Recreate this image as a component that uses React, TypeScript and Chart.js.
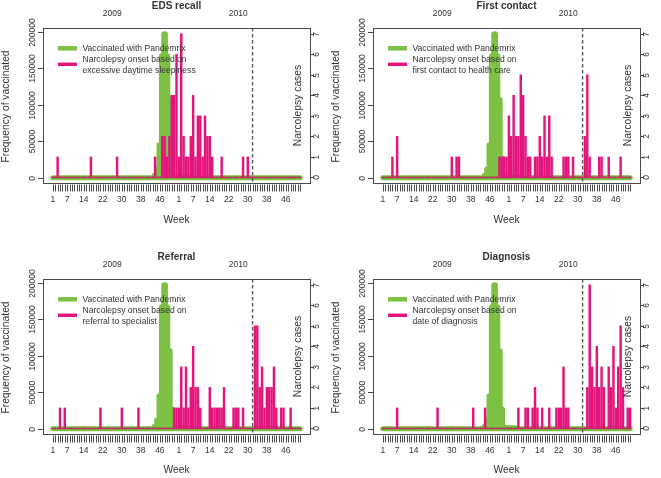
import React, { useEffect, useRef } from 'react';
import { Chart, registerables } from 'chart.js';
Chart.register(...registerables);

const FONT = '"Liberation Sans", Arial, Helvetica, sans-serif';

// ---- categories / ticks ----
const years = [2009, 2010];
const weeksPerYear = [53, 52];
const shownWeekTicks = [1, 7, 14, 22, 30, 38, 46];
const yearLabelWeek = 26;
const markerYear = 2010;
const markerWeek = 32;
const leftTicks = [0, 50000, 100000, 150000, 200000];
const rightTicks = [0, 1, 2, 3, 4, 5, 6, 7];

// ---- series (105 weeks: 2009 w1..w53, 2010 w1..w52) ----
const vaccinated = [
  0, 0, 0, 0, 0, 0, 0, 0, 0, 0,
  0, 0, 0, 0, 0, 0, 0, 0, 0, 0,
  0, 0, 0, 0, 0, 0, 0, 0, 0, 0,
  0, 0, 0, 0, 0, 0, 0, 0, 0, 0,
  0, 0, 1500, 6000, 15000, 48000, 170000, 200000, 170000, 110000,
  30000, 5000, 4000, 4000, 4000, 4000, 4000, 3000, 2000, 2000,
  1500, 1500, 1500, 1500, 1500, 1500, 1500, 1500, 1500, 1500,
  1000, 1000, 1000, 0, 0, 0, 0, 0, 0, 0,
  0, 0, 0, 0, 0, 0, 0, 0, 0, 0,
  0, 0, 0, 0, 0, 0, 0, 0, 0, 0,
  0, 0, 0, 0, 0,
];

const edsRecall = [
  0, 0, 1, 0, 0, 0, 0, 0, 0, 0,
  0, 0, 0, 0, 0, 0, 1, 0, 0, 0,
  0, 0, 0, 0, 0, 0, 0, 1, 0, 0,
  0, 0, 0, 0, 0, 0, 0, 0, 0, 0,
  0, 0, 0, 1, 0, 0, 2, 2, 1, 2,
  4, 4, 6, 1, 7, 2, 1, 1, 2, 4,
  1, 3, 3, 1, 3, 2, 2, 1, 0, 0,
  0, 1, 0, 0, 0, 0, 0, 0, 0, 0,
  1, 0, 1, 0, 0, 0, 0, 0, 0, 0,
  0, 0, 0, 0, 0, 0, 0, 0, 0, 0,
  0, 0, 0, 0, 0,
];

const firstContact = [
  0, 0, 0, 0, 1, 0, 2, 0, 0, 0,
  0, 0, 0, 0, 0, 0, 0, 0, 0, 0,
  0, 0, 0, 0, 0, 0, 0, 0, 0, 1,
  0, 1, 1, 0, 0, 0, 0, 0, 0, 0,
  0, 0, 0, 0, 0, 0, 0, 0, 0, 1,
  1, 1, 1, 3, 2, 4, 2, 2, 5, 4,
  2, 1, 1, 0, 1, 1, 2, 1, 3, 1,
  3, 1, 0, 0, 0, 0, 1, 1, 1, 0,
  1, 0, 0, 0, 0, 2, 5, 1, 0, 0,
  0, 1, 1, 0, 0, 1, 0, 0, 0, 0,
  1, 0, 0, 0, 0,
];

const referral = [
  0, 0, 0, 1, 0, 1, 0, 0, 0, 0,
  0, 0, 0, 0, 0, 0, 0, 0, 0, 0,
  1, 0, 0, 0, 0, 0, 0, 0, 0, 1,
  0, 0, 0, 0, 0, 0, 1, 0, 0, 0,
  0, 0, 0, 0, 0, 0, 0, 0, 0, 0,
  0, 1, 1, 1, 3, 1, 3, 1, 2, 4,
  2, 2, 1, 0, 0, 0, 2, 1, 1, 1,
  1, 1, 2, 0, 0, 0, 1, 1, 1, 0,
  1, 0, 0, 0, 0, 5, 5, 2, 3, 1,
  2, 2, 2, 3, 1, 0, 1, 1, 0, 0,
  1, 0, 0, 0, 0,
];

const diagnosis = [
  0, 0, 0, 0, 0, 0, 1, 0, 0, 0,
  0, 0, 0, 0, 0, 0, 0, 0, 0, 0,
  0, 0, 0, 1, 0, 0, 0, 0, 0, 0,
  0, 0, 0, 0, 0, 0, 0, 0, 1, 0,
  0, 0, 0, 1, 0, 0, 0, 0, 0, 0,
  0, 0, 0, 0, 0, 0, 0, 1, 0, 0,
  1, 1, 0, 1, 2, 1, 0, 1, 0, 0,
  1, 0, 0, 1, 1, 1, 3, 1, 1, 0,
  0, 0, 0, 0, 0, 0, 2, 7, 3, 2,
  4, 2, 3, 2, 0, 3, 2, 4, 1, 3,
  5, 2, 0, 1, 1,
];

const panelTitles = ['EDS recall', 'First contact', 'Referral', 'Diagnosis'];
const legendVaccinated = 'Vaccinated with Pandemrix';
const legendOnsetLine1 = 'Narcolepsy onset based on';
const legendOnsetLine2 = [
  'excessive daytime sleepiness',
  'first contact to health care',
  'referral to specialist',
  'date of diagnosis',
];
const panelSeries = [edsRecall, firstContact, referral, diagnosis];

const GREEN = '#7CC143';
const PINK = '#E3157D';
const TEXT = '#333333';
const AXIS = '#4a4a4a';

function weekIndex(year: number, week: number) {
  let idx = 0;
  for (let k = 0; k < years.length; k++) {
    if (years[k] === year) return idx + week - 1;
    idx += weeksPerYear[k];
  }
  return idx;
}

const totalWeeks = weeksPerYear.reduce((a, b) => a + b, 0);
const weekIdx = Array.from({ length: totalWeeks }, (_, i) => i);

const decor = {
  id: 'decor',
  afterDraw(chart: any, _args: any, opts: any) {
    const { ctx, chartArea: a, scales } = chart;
    const x = scales.x, yL = scales.y, yR = scales.y2;
    ctx.save();

    // dashed marker line
    const mx = x.getPixelForValue(weekIndex(markerYear, markerWeek));
    ctx.strokeStyle = '#555';
    ctx.lineWidth = 1.4;
    ctx.setLineDash([3.5, 2.5]);
    ctx.beginPath();
    ctx.moveTo(mx, a.top);
    ctx.lineTo(mx, a.bottom);
    ctx.stroke();
    ctx.setLineDash([]);

    // box
    ctx.strokeStyle = AXIS;
    ctx.lineWidth = 1;
    ctx.strokeRect(a.left + 0.5, a.top + 0.5, a.right - a.left, a.bottom - a.top);

    ctx.fillStyle = TEXT;
    ctx.textAlign = 'center';
    ctx.textBaseline = 'middle';

    // left axis
    ctx.font = `8.5px ${FONT}`;
    leftTicks.forEach((v) => {
      const py = Math.round(yL.getPixelForValue(v)) + 0.5;
      ctx.beginPath();
      ctx.moveTo(a.left, py);
      ctx.lineTo(a.left - 5, py);
      ctx.stroke();
      ctx.save();
      ctx.translate(a.left - 10, py);
      ctx.rotate(-Math.PI / 2);
      ctx.fillText(String(v), 0, 0);
      ctx.restore();
    });
    // right axis
    rightTicks.forEach((v) => {
      const py = Math.round(yR.getPixelForValue(v)) + 0.5;
      ctx.beginPath();
      ctx.moveTo(a.right, py);
      ctx.lineTo(a.right + 4, py);
      ctx.stroke();
      ctx.save();
      ctx.translate(a.right + 7, py);
      ctx.rotate(-Math.PI / 2);
      ctx.fillText(String(v), 0, 0);
      ctx.restore();
    });
    // x axis comb
    weekIdx.forEach((i) => {
      const px = Math.round(x.getPixelForValue(i)) + 0.5;
      ctx.beginPath();
      ctx.moveTo(px, a.bottom + 1.5);
      ctx.lineTo(px, a.bottom + 8.5);
      ctx.stroke();
    });
    years.forEach((yr) => {
      shownWeekTicks.forEach((w) => {
        const px = x.getPixelForValue(weekIndex(yr, w));
        ctx.fillText(String(w), px, a.bottom + 17);
      });
      const px = x.getPixelForValue(weekIndex(yr, yearLabelWeek));
      ctx.fillText(String(yr), px, a.top - 14.5);
    });

    // titles
    const cx = (a.left + a.right) / 2;
    const cy = (a.top + a.bottom) / 2;
    ctx.font = `bold 10px ${FONT}`;
    ctx.fillText(opts.title, cx, a.top - 21.5);
    ctx.font = `10.3px ${FONT}`;
    ctx.fillText('Week', cx, a.bottom + opts.weekGap);
    ctx.save();
    ctx.translate(6.5, cy + 1);
    ctx.rotate(-Math.PI / 2);
    ctx.fillText('Frequency of vaccinated', 0, 0);
    ctx.restore();
    ctx.save();
    ctx.translate(a.right - 11.5, cy);
    ctx.rotate(-Math.PI / 2);
    ctx.fillText('Narcolepsy cases', 0, 0);
    ctx.restore();

    // legend
    const lx0 = a.left + 15, lx1 = a.left + 34;
    ctx.lineCap = 'butt';
    ctx.strokeStyle = GREEN;
    ctx.lineWidth = 4.5;
    ctx.beginPath();
    ctx.moveTo(lx0, a.top + 20.3);
    ctx.lineTo(lx1, a.top + 20.3);
    ctx.stroke();
    ctx.strokeStyle = PINK;
    ctx.lineWidth = 3.5;
    ctx.beginPath();
    ctx.moveTo(lx0, a.top + 36.3);
    ctx.lineTo(lx1, a.top + 36.3);
    ctx.stroke();
    ctx.textAlign = 'left';
    ctx.font = `8.6px ${FONT}`;
    ctx.fillText(legendVaccinated, a.left + 39.5, a.top + 20.3);
    ctx.fillText(legendOnsetLine1, a.left + 39.5, a.top + 31.8);
    ctx.fillText(opts.legend2, a.left + 39.5, a.top + 42.6);

    ctx.restore();
  },
};

function Panel(props: { idx: number; left: number; top: number; width: number; offset: number }) {
  const { idx, left, top, width, offset } = props;
  const ref = useRef<HTMLCanvasElement>(null);
  useEffect(() => {
    const cases = panelSeries[idx];
    const chart = new Chart(ref.current as HTMLCanvasElement, {
      type: 'bar',
      data: {
        datasets: [
          {
            type: 'line',
            data: weekIdx.map((i) => ({ x: i, y: 0 })),
            yAxisID: 'y',
            borderColor: GREEN,
            borderWidth: 5,
            borderCapStyle: 'round',
            pointRadius: 0,
            order: 5,
          } as any,
          {
            type: 'bar',
            data: vaccinated.map((v, i) => ({ x: i, y: v })),
            yAxisID: 'y',
            backgroundColor: GREEN,
            barThickness: 6,
            grouped: false,
            borderRadius: 3,
            order: 4,
          } as any,
          {
            type: 'line',
            data: cases.map((_, i) => ({ x: i, y: 0 })),
            yAxisID: 'y2',
            showLine: false,
            pointRadius: 1.1,
            pointBorderWidth: 0,
            pointBackgroundColor: '#8E4B3C',
            order: 3,
          } as any,
          {
            type: 'bar',
            data: cases.map((v, i) => ({ x: i, y: v })),
            yAxisID: 'y2',
            backgroundColor: PINK,
            barThickness: 1.8,
            grouped: false,
            order: 2,
          } as any,
        ],
      },
      options: {
        responsive: false,
        animation: false,
        devicePixelRatio: 1,
        events: [],
        layout: {
          padding: { left: 43, right: width - 310, top: 28 + offset, bottom: 239 - 183 - offset },
        },
        plugins: {
          legend: { display: false },
          tooltip: { enabled: false },
          decor: { title: panelTitles[idx], legend2: legendOnsetLine2[idx], weekGap: offset ? 36 : 37 },
        } as any,
        scales: {
          x: { type: 'linear', min: -4.16, max: 108.16, offset: false, display: false },
          y: { type: 'linear', min: -7300, max: 205000, display: false },
          y2: { type: 'linear', min: -0.27, max: 7.28, display: false, position: 'right' },
        },
      } as any,
      plugins: [decor as any],
    });
    return () => chart.destroy();
  }, [idx, width, offset]);
  return (
    <canvas
      ref={ref}
      width={width}
      height={239}
      style={{ position: 'absolute', left, top, width, height: 239, display: 'block' }}
    />
  );
}

export default function App() {
  return (
    <div
      style={{
        position: 'fixed',
        left: 0,
        top: 0,
        width: 661,
        height: 478,
        overflow: 'hidden',
        background: '#ffffff',
      }}
    >
      <Panel idx={0} left={0} top={0} width={330} offset={0} />
      <Panel idx={1} left={330} top={0} width={331} offset={0} />
      <Panel idx={2} left={0} top={239} width={330} offset={12} />
      <Panel idx={3} left={330} top={239} width={331} offset={12} />
    </div>
  );
}
